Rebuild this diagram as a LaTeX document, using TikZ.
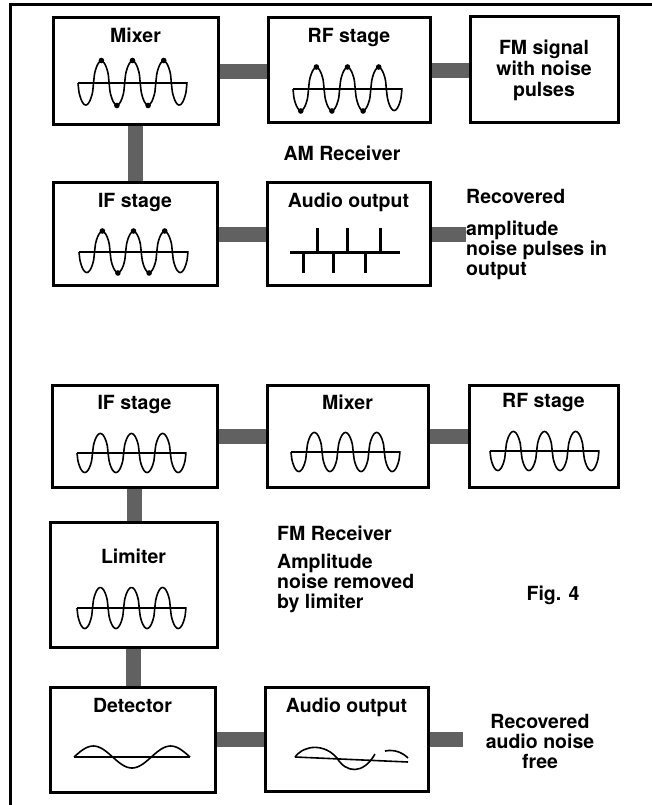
\documentclass[tikz,border=0pt]{standalone}
\usepackage{fontspec}
\setmainfont{TeX Gyre Heros}
\usetikzlibrary{positioning}

\tikzset{
  block/.style={draw, line width=3pt, fill=white, inner sep=0pt,
    font=\bfseries\fontsize{19.5}{21}\selectfont, align=center},
  lbl/.style={font=\bfseries\fontsize{19.5}{21}\selectfont, inner sep=0pt,
    text height=14pt, text depth=4pt},
  txt/.style={font=\bfseries\fontsize{19.5}{20}\selectfont, inner sep=0pt},
  link/.style={line width=15pt, black!62},
  wave/.style={line width=1.6pt, line join=round},
  spike/.style={line width=3pt},
}

% carrier: x start, axis y, amplitude (3.5 periods of 31.14)
\newcommand{\carrier}[3]{%
  \draw[wave] (#1,#2) -- ++(109,0);
  \draw[wave] plot[domain=0:109, samples=120, smooth]
    ({#1+\x},{#2+#3*sign(sin(\x*11.561))*(abs(sin(\x*11.561))+0.0001)^0.55});
}

\begin{document}
\begin{tikzpicture}[x=1pt, y=-1pt]
  \useasboundingbox (0,0) rectangle (652,805);

  % frame
  \draw[line width=3pt] (10,805) -- (10,5) -- (652,5);

  % AM receiver blocks
  \node[block, minimum width=165pt, minimum height=107pt] (amMix) at (135.5,71.5) {};
  \node[block, minimum width=162pt, minimum height=105pt] (amRF) at (349,70.5) {};
  \node[block, minimum width=148pt, minimum height=106pt] (amFM) at (544,70) {FM signal\\with noise\\pulses};
  \node[block, minimum width=164pt, minimum height=102pt] (amIF) at (135,234) {};
  \node[block, minimum width=163pt, minimum height=102pt] (amAud) at (348.5,234) {};

  \node[lbl, below=12pt of amMix.north] (amMixT) {Mixer};
  \node[lbl, below=12pt of amRF.north] (amRFT) {RF stage};
  \node[lbl, below=12pt of amIF.north] (amIFT) {IF stage};
  \node[lbl, below=12pt of amAud.north] (amAudT) {Audio output};

  \node[txt] (amName) at (342,153) {AM Receiver};
  \node[txt, anchor=west, align=left] (amOut) at (466,235)
    {Recovered\\[12pt]amplitude\\noise pulses in\\output};

  % AM connectors
  \draw[link] (amMix.east) -- (amMix.east -| amRF.west);
  \draw[link] (amRF.east) -- (amRF.east -| amFM.west);
  \draw[link] (amMix.south) -- (amMix.south |- amIF.north);
  \draw[link] (amIF.east) -- (amIF.east -| amAud.west);
  \draw[link] (amAud.east) -- (amAud.east -| amOut.west);

  % AM waveforms with noise pulses
  \carrier{78}{83}{22}
  \foreach \x in {101.4,132.5,163.7} \fill (\x,60.5) circle (2.8pt);
  \foreach \x in {116.9,148.1} \fill (\x,105.5) circle (2.8pt);

  \carrier{293}{89}{21.5}
  \foreach \x in {316.4,347.5,378.7} \fill (\x,67) circle (2.8pt);
  \foreach \x in {300.8,331.9,363.1} \fill (\x,111) circle (2.8pt);

  \carrier{79}{252}{20.5}
  \foreach \x in {102.4,133.5,164.7} \fill (\x,231) circle (2.8pt);
  \foreach \x in {117.9,149.1} \fill (\x,273) circle (2.8pt);

  \draw[spike] (290,252) -- (400,252);
  \foreach \x in {303,333,365} \draw[spike] (\x,252) -- (\x,273);
  \foreach \x in {317,347,380} \draw[spike] (\x,252) -- (\x,228);

  % FM receiver blocks
  \node[block, minimum width=165pt, minimum height=102pt] (fmIF) at (134.5,436) {};
  \node[block, minimum width=161pt, minimum height=102pt] (fmMix) at (347.5,436) {};
  \node[block, minimum width=149pt, minimum height=102pt] (fmRF) at (543.5,436) {};
  \node[block, minimum width=167pt, minimum height=125pt] (fmLim) at (133.5,584.5) {};
  \node[block, minimum width=165pt, minimum height=105pt] (fmDet) at (132.5,739.5) {};
  \node[block, minimum width=163pt, minimum height=104pt] (fmAud) at (346.5,739) {};

  \node[lbl, below=12pt of fmIF.north] (fmIFT) {IF stage};
  \node[lbl, below=12pt of fmMix.north] (fmMixT) {Mixer};
  \node[lbl, below=10pt of fmRF.north] (fmRFT) {RF stage};
  \node[lbl, below=29pt of fmLim.north] (fmLimT) {Limiter};
  \node[lbl, below=13pt of fmDet.north] (fmDetT) {Detector};
  \node[lbl, below=13pt of fmAud.north] (fmAudT) {Audio output};

  \node[txt, anchor=west] (fmName) at (277,533) {FM Receiver};
  \node[txt, anchor=west, align=left] (fmNote) at (277,583)
    {Amplitude\\noise removed\\by limiter};
  \node[txt] (fig) at (553,595) {Fig. 4};
  \node[txt, align=center] (fmOut) at (540,741) {Recovered\\audio noise\\free};
  \coordinate (fmEnd) at (463,740);

  % FM connectors
  \draw[link] (fmIF.east) -- (fmIF.east -| fmMix.west);
  \draw[link] (fmMix.east) -- (fmMix.east -| fmRF.west);
  \draw[link] (fmIF.south) -- (fmIF.south |- fmLim.north);
  \draw[link] (fmLim.south) -- (fmLim.south |- fmDet.north);
  \draw[link] (fmDet.east) -- (fmDet.east -| fmAud.west);
  \draw[link] (fmAud.east) -- (fmAud.east -| fmEnd);

  % FM waveforms
  \carrier{77}{453}{19.5}
  \carrier{291}{452}{19.5}
  \carrier{490}{451}{19.5}
  \carrier{77}{608}{20.5}

  \draw[wave] (74,757) -- (190,757);
  \draw[wave] plot[domain=0:116, samples=60, smooth] ({74+\x},{757-11*sin(\x*4.657)});

  \draw[wave] (295,757) -- (408,762);
  \draw[wave] (295,757) .. controls (305,744) and (325,744) .. (337,758)
    .. controls (346,773) and (363,775) .. (375,754);
  \draw[wave] (385,751) .. controls (395,749) and (403,753) .. (408,758);
\end{tikzpicture}
\end{document}
